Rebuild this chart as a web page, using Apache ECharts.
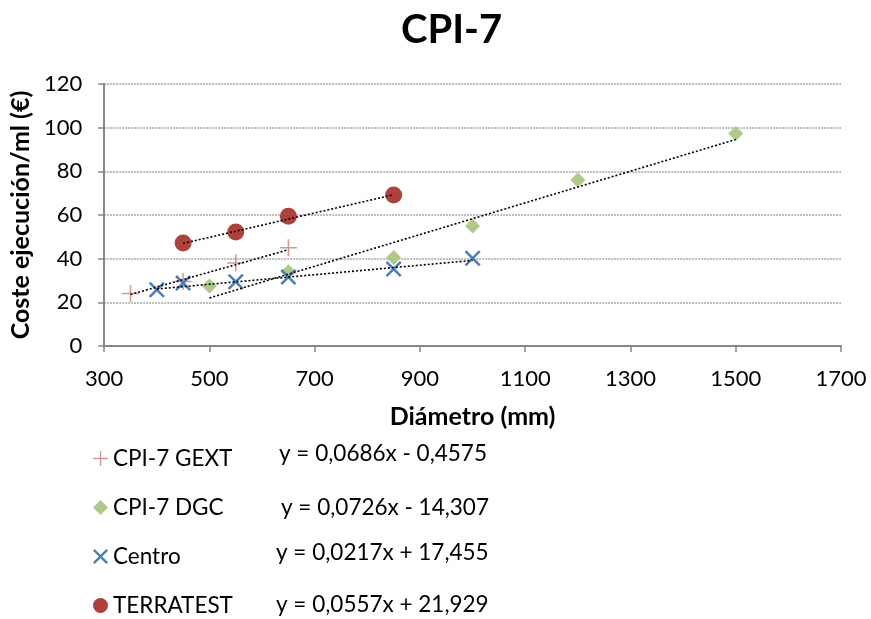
<!DOCTYPE html>
<html><head><meta charset="utf-8">
<script src="https://cdn.jsdelivr.net/npm/echarts@6/dist/echarts.min.js"></script>
<style>html,body{margin:0;padding:0;background:#fff}#c{width:871px;height:619px}</style>
</head><body><div id="c"></div>
<script>
var titleText = 'CPI-7';
var xName = 'Diámetro (mm)';
var yName = 'Coste ejecución/ml (€)';
var seriesNames = ['CPI-7 GEXT', 'CPI-7 DGC', 'Centro', 'TERRATEST'];
var equations = ['y = 0,0686x - 0,4575', 'y = 0,0726x - 14,307', 'y = 0,0217x + 17,455', 'y = 0,0557x + 21,929'];

var gextX = [350, 450, 550, 650];
var gextY = [24, 29.5, 38, 45];
var dgcX = [500, 650, 850, 1000, 1200, 1500];
var dgcY = [27.5, 34, 40.5, 55, 76, 97.3];
var centroX = [400, 450, 550, 650, 850, 1000];
var centroY = [25.8, 28.8, 29.4, 31.6, 35.3, 40.2];
var terraX = [450, 550, 650, 850];
var terraY = [47.2, 52.2, 59.4, 69.2];

// trendline end points
var gextTrend = [[350, 23.6], [650, 44.1]];
var dgcTrend = [[500, 22], [1500, 94.6]];
var centroTrend = [[400, 26.1], [1000, 39.2]];
var terraTrend = [[450, 47], [850, 69.3]];

var colors = ['#d99694', '#afc987', '#4a7ebb', '#b0403c'];
var FONT = 'Lato, "Open Sans", sans-serif';

function zip(xs, ys) { return xs.map(function (x, i) { return [x, ys[i]]; }); }

var plusPath = 'path://M4.55,0H5.45V4.55H10V5.45H5.45V10H4.55V5.45H0V4.55H4.55Z';
var d = 1.1;
var xPath = 'path://M0,' + d + 'L' + d + ',0L5,' + (5 - d) + 'L' + (10 - d) + ',0L10,' + d + 'L' + (5 + d) + ',5L10,' + (10 - d) + 'L' + (10 - d) + ',10L5,' + (5 + d) + 'L' + d + ',10L0,' + (10 - d) + 'L' + (5 - d) + ',5Z';

var symbols = [plusPath, 'diamond', xPath, 'circle'];
var sizes = [17, 15, 16, 17];
var pts = [zip(gextX, gextY), zip(dgcX, dgcY), zip(centroX, centroY), zip(terraX, terraY)];
var trends = [gextTrend, dgcTrend, centroTrend, terraTrend];

var series = [];
trends.forEach(function (t) {
  series.push({
    type: 'line', data: t, showSymbol: false, symbol: 'none', silent: true, z: 3,
    lineStyle: { color: '#000', width: 1.6, type: [2, 2] }
  });
});
pts.forEach(function (p, i) {
  series.push({
    name: seriesNames[i], type: 'scatter', data: p, symbol: symbols[i],
    symbolSize: sizes[i], symbolKeepAspect: true, z: 2,
    itemStyle: { color: colors[i], opacity: 1 }
  });
});

var eqTop = [442, 496, 541, 593];
var eqLeft = [279, 281, 276, 276];
var graphics = equations.map(function (e, i) {
  return { type: 'text', left: eqLeft[i], top: eqTop[i],
    style: { text: e, fill: '#000', font: '22.5px ' + FONT } };
});

var axisLabelFmt = function (v) { return String(v); };

var chart = echarts.init(document.getElementById('c'));
chart.setOption({
  backgroundColor: '#fff',
  animation: false,
  title: { text: titleText, left: 396, top: 5,
    textStyle: { fontFamily: FONT, fontSize: 40, fontWeight: 'bold', color: '#000' } },
  grid: { left: 102, right: 30, top: 84, bottom: 273 },
  legend: {
    data: seriesNames.map(function (n, i) { return { name: n, icon: symbols[i] }; }),
    orient: 'vertical', left: 93, top: 447, height: 172, itemGap: 26, itemWidth: 15, itemHeight: 15,
    padding: 0,
    textStyle: { fontFamily: FONT, fontSize: 22.5, color: '#000' }
  },
  xAxis: {
    type: 'value', min: 300, max: 1700, interval: 200,
    name: xName, nameLocation: 'middle', nameGap: 58,
    nameTextStyle: { fontFamily: FONT, fontSize: 25, fontWeight: 'bold', color: '#000' },
    axisLine: { lineStyle: { color: '#868686', width: 2 } },
    axisTick: { show: true, length: 6, lineStyle: { color: '#868686', width: 1.5 } },
    axisLabel: { fontFamily: FONT, fontSize: 22, color: '#000', margin: 22, formatter: axisLabelFmt },
    splitLine: { show: false }
  },
  yAxis: {
    type: 'value', min: 0, max: 120, interval: 20,
    name: yName, nameLocation: 'middle', nameGap: 57,
    nameTextStyle: { fontFamily: FONT, fontSize: 25, fontWeight: 'bold', color: '#000' },
    axisLine: { show: true, lineStyle: { color: '#868686', width: 2 } },
    axisTick: { show: true, length: 6, lineStyle: { color: '#868686', width: 1.5 } },
    axisLabel: { fontFamily: FONT, fontSize: 22, color: '#000', margin: 22, formatter: axisLabelFmt },
    splitLine: { show: true, lineStyle: { color: '#a6a6a6', width: 1.5, type: [2, 1] } }
  },
  graphic: graphics,
  series: series
});
</script></body></html>
